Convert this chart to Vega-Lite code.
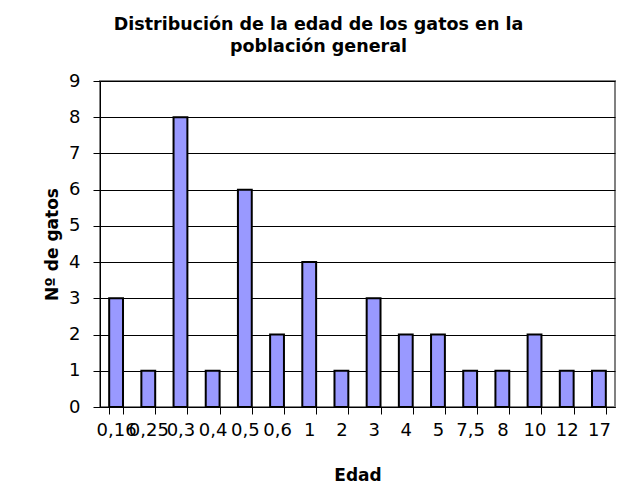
{
  "$schema": "https://vega.github.io/schema/vega-lite/v6.json",
  "width": 515,
  "height": 326,
  "autosize": {"type": "none"},
  "padding": {"left": 100, "top": 81, "right": 7, "bottom": 88},
  "background": "white",
  "title": {
    "text": ["Distribución de la edad de los gatos en la", "población general"],
    "font": "DejaVu Sans",
    "fontSize": 17.5,
    "fontWeight": "bold",
    "color": "black",
    "anchor": "middle",
    "dx": -39,
    "offset": 17,
    "lineHeight": 22
  },
  "data": {
    "values": [
      {"edad": "0,16", "n": 3},
      {"edad": "0,25", "n": 1},
      {"edad": "0,3", "n": 8},
      {"edad": "0,4", "n": 1},
      {"edad": "0,5", "n": 6},
      {"edad": "0,6", "n": 2},
      {"edad": "1", "n": 4},
      {"edad": "2", "n": 1},
      {"edad": "3", "n": 3},
      {"edad": "4", "n": 2},
      {"edad": "5", "n": 2},
      {"edad": "7,5", "n": 1},
      {"edad": "8", "n": 1},
      {"edad": "10", "n": 2},
      {"edad": "12", "n": 1},
      {"edad": "17", "n": 1}
    ]
  },
  "mark": {"type": "bar", "fill": "#9999FF", "stroke": "black", "strokeWidth": 2},
  "encoding": {
    "x": {
      "field": "edad",
      "type": "nominal",
      "sort": null,
      "scale": {"paddingInner": 0.57, "paddingOuter": 0.285},
      "axis": {
        "title": "Edad",
        "labelAngle": 0,
        "labelFont": "DejaVu Sans",
        "labelFontSize": 18,
        "labelColor": "black",
        "labelPadding": 7,
        "labelOverlap": false,
        "labelBaseline": "top",
        "tickBand": "extent",
        "tickSize": 7,
        "tickColor": "black",
        "domainColor": "black",
        "domainWidth": 1,
        "titleFont": "DejaVu Sans",
        "titleFontSize": 17,
        "titleFontWeight": "bold",
        "titleColor": "black",
        "titlePadding": 28
      }
    },
    "y": {
      "field": "n",
      "type": "quantitative",
      "scale": {"domain": [0, 9], "nice": false},
      "axis": {
        "title": "Nº de gatos",
        "values": [0, 1, 2, 3, 4, 5, 6, 7, 8, 9],
        "labelFont": "DejaVu Sans",
        "labelFontSize": 18,
        "labelColor": "black",
        "labelPadding": 13,
        "tickSize": 7,
        "tickColor": "black",
        "domainColor": "black",
        "grid": true,
        "gridColor": "black",
        "gridWidth": 1,
        "gridOpacity": 1,
        "titleFont": "DejaVu Sans",
        "titleFontSize": 17,
        "titleFontWeight": "bold",
        "titleColor": "black",
        "titlePadding": 7
      }
    }
  },
  "config": {
    "view": {"stroke": "#808080", "strokeWidth": 2}
  }
}
